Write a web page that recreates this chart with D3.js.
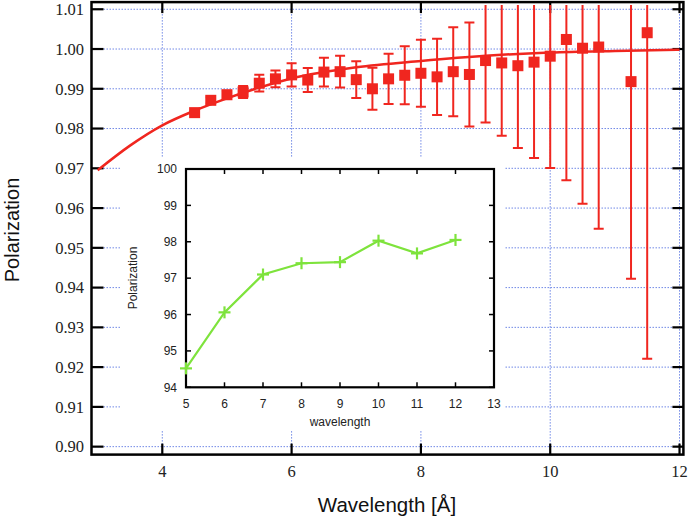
<!DOCTYPE html>
<html><head><meta charset="utf-8">
<script src="https://cdn.jsdelivr.net/npm/d3@7"></script>
<style>body{margin:0;background:#fff}svg{display:block}</style>
</head><body>
<svg id="c" width="688" height="518"></svg>
<script>
// ---- main chart data ----
const wavelengths = [4.5,4.75,5.0,5.25,5.5,5.75,6.0,6.25,6.5,6.75,7.0,7.25,7.5,7.75,8.0,8.25,8.5,8.75,9.0,9.25,9.5,9.75,10.0,10.25,10.5,10.75,11.25,11.5];
const polarization = [0.9840,0.9871,0.9885,0.9892,0.9914,0.9925,0.9935,0.9922,0.9942,0.9943,0.9923,0.9900,0.9925,0.9934,0.9939,0.9930,0.9943,0.9936,0.9971,0.9965,0.9958,0.9967,0.9982,1.0024,1.0002,1.0005,0.9918,1.0041];
const polErrors = [0.0004,0.0008,0.0010,0.0015,0.0021,0.0021,0.0029,0.0030,0.0036,0.0040,0.0046,0.0053,0.0063,0.0073,0.0084,0.0096,0.0112,0.0131,0.0156,0.0183,0.0207,0.0241,0.0281,0.0354,0.0391,0.0457,0.0496,0.0820];
const fitWavelengths = [3,3.5,4,4.5,5,5.5,6,7,8,9,10,11,12];
const fitValues = [0.9695,0.9757,0.9808,0.9845,0.9876,0.9903,0.9926,0.9954,0.9970,0.9983,0.9991,0.9995,0.9998];
const xTicks = [4,6,8,10,12];
const yTicks = [0.90,0.91,0.92,0.93,0.94,0.95,0.96,0.97,0.98,0.99,1.00,1.01];
// ---- inset data ----
const insetWavelength = [5,6,7,8,9,10,11,12];
const insetPolarization = [94.52,96.06,97.10,97.41,97.44,98.03,97.68,98.05];
const insetXTicks = [5,6,7,8,9,10,11,12,13];
const insetYTicks = [94,95,96,97,98,99,100];

const svg = d3.select("#c");
const RED = "#f0261f", GRID = "#7088e6", GREEN = "#7ee33c";

const x = d3.scaleLinear().domain([2.905, 12.06]).range([91.5, 683.4]);
const y = d3.scaleLinear().domain([0.898, 1.0118]).range([454.6, 2.1]);
const X0 = x.range()[0], X1 = x.range()[1], Y0 = y.range()[0], Y1 = y.range()[1];

// grid
const g = svg.append("g").attr("stroke", GRID).attr("stroke-width", 1).attr("stroke-dasharray", "1.5,1.5").attr("fill","none");
yTicks.forEach(t => g.append("line").attr("x1", X0).attr("x2", X1).attr("y1", y(t)).attr("y2", y(t)));
xTicks.forEach(t => g.append("line").attr("x1", x(t)).attr("x2", x(t)).attr("y1", Y1).attr("y2", Y0));

// inset white backdrop
svg.append("rect").attr("x", 120).attr("y", 157).attr("width", 385).attr("height", 274).attr("fill", "#fff");

// ticks (inward, mirrored)
const tk = svg.append("g").attr("stroke", "#000").attr("stroke-width", 2.2);
yTicks.forEach(t => {
  tk.append("line").attr("x1", X0).attr("x2", X0 + 12).attr("y1", y(t)).attr("y2", y(t));
  tk.append("line").attr("x1", X1).attr("x2", X1 - 11).attr("y1", y(t)).attr("y2", y(t));
});
xTicks.forEach(t => {
  tk.append("line").attr("x1", x(t)).attr("x2", x(t)).attr("y1", Y0).attr("y2", Y0 - 11);
  tk.append("line").attr("x1", x(t)).attr("x2", x(t)).attr("y1", Y1).attr("y2", Y1 + 11);
});
// frame
svg.append("rect").attr("x", X0).attr("y", Y1).attr("width", X1 - X0).attr("height", Y0 - Y1)
  .attr("fill", "none").attr("stroke", "#000").attr("stroke-width", 2.5);

// tick labels
const tl = svg.append("g").attr("font-family", "'Liberation Serif', 'Times New Roman', serif").attr("font-size", 16.5).attr("fill", "#222");
yTicks.forEach(t => tl.append("text").attr("x", 84).attr("y", y(t)).attr("dy", "0.35em").attr("text-anchor", "end").text(t.toFixed(2)));
xTicks.forEach(t => tl.append("text").attr("x", x(t)).attr("y", 477).attr("text-anchor", "middle").text(t));

// axis titles
svg.append("text").attr("x", 387).attr("y", 512).attr("text-anchor", "middle")
  .attr("font-family", "'Liberation Sans', Arial, sans-serif").attr("font-size", 20.5).attr("fill", "#111").text("Wavelength [Å]");
svg.append("text").attr("transform", "translate(19,230) rotate(-90)").attr("text-anchor", "middle")
  .attr("font-family", "'Liberation Sans', Arial, sans-serif").attr("font-size", 20).attr("fill", "#111").text("Polarization");

// clip for data
svg.append("clipPath").attr("id", "pc").append("rect").attr("x", X0 + 1).attr("y", Y1 + 3).attr("width", X1 - X0 - 2).attr("height", Y0 - Y1 - 4);
const dg = svg.append("g").attr("clip-path", "url(#pc)");

// fit curve
dg.append("path").datum(fitWavelengths.map((w, i) => [w, fitValues[i]]))
  .attr("d", d3.line().x(d => x(d[0])).y(d => y(d[1])).curve(d3.curveMonotoneX))
  .attr("fill", "none").attr("stroke", RED).attr("stroke-width", 2.5);

// error bars
const eb = dg.append("g").attr("stroke", RED).attr("stroke-width", 2);
wavelengths.forEach((w, i) => {
  const v = polarization[i], e = polErrors[i];
  eb.append("line").attr("x1", x(w)).attr("x2", x(w)).attr("y1", y(v - e)).attr("y2", y(v + e));
  [v - e, v + e].forEach(c => eb.append("line").attr("x1", x(w) - 5).attr("x2", x(w) + 5).attr("y1", y(c)).attr("y2", y(c)));
});
// markers
dg.append("g").selectAll("rect").data(wavelengths).join("rect")
  .attr("x", d => x(d) - 5.5).attr("y", (d, i) => y(polarization[i]) - 5.5)
  .attr("width", 11).attr("height", 11).attr("fill", RED);

// ---- inset ----
const ix = d3.scaleLinear().domain([5, 13]).range([186, 494]);
const iy = d3.scaleLinear().domain([94, 100]).range([387.3, 169]);
const it = svg.append("g").attr("stroke", "#000").attr("stroke-width", 1.5);
insetYTicks.forEach(t => {
  it.append("line").attr("x1", ix(5)).attr("x2", ix(5) + 5).attr("y1", iy(t)).attr("y2", iy(t));
  it.append("line").attr("x1", ix(13)).attr("x2", ix(13) - 5).attr("y1", iy(t)).attr("y2", iy(t));
});
insetXTicks.forEach(t => {
  it.append("line").attr("x1", ix(t)).attr("x2", ix(t)).attr("y1", iy(94)).attr("y2", iy(94) - 5);
  it.append("line").attr("x1", ix(t)).attr("x2", ix(t)).attr("y1", iy(100)).attr("y2", iy(100) + 5);
});
svg.append("rect").attr("x", ix(5)).attr("y", iy(100)).attr("width", ix(13) - ix(5)).attr("height", iy(94) - iy(100))
  .attr("fill", "none").attr("stroke", "#000").attr("stroke-width", 2.2);

const il = svg.append("g").attr("font-family", "'Liberation Sans', Arial, sans-serif").attr("font-size", 12).attr("fill", "#222");
insetYTicks.forEach(t => il.append("text").attr("x", 177).attr("y", iy(t)).attr("dy", "0.35em").attr("text-anchor", "end").text(t));
insetXTicks.forEach(t => il.append("text").attr("x", ix(t)).attr("y", 407.5).attr("text-anchor", "middle").text(t));
il.append("text").attr("x", 340).attr("y", 426).attr("text-anchor", "middle").text("wavelength");
il.append("text").attr("transform", "translate(137,278) rotate(-90)").attr("text-anchor", "middle").text("Polarization");

svg.append("path").datum(insetWavelength.map((w, i) => [w, insetPolarization[i]]))
  .attr("d", d3.line().x(d => ix(d[0])).y(d => iy(d[1])))
  .attr("fill", "none").attr("stroke", GREEN).attr("stroke-width", 2.2);
const pm = svg.append("g").attr("stroke", GREEN).attr("stroke-width", 2.2);
insetWavelength.forEach((w, i) => {
  const cx = ix(w), cy = iy(insetPolarization[i]);
  pm.append("line").attr("x1", cx - 6).attr("x2", cx + 6).attr("y1", cy).attr("y2", cy);
  pm.append("line").attr("x1", cx).attr("x2", cx).attr("y1", cy - 6).attr("y2", cy + 6);
});
</script>
</body></html>
